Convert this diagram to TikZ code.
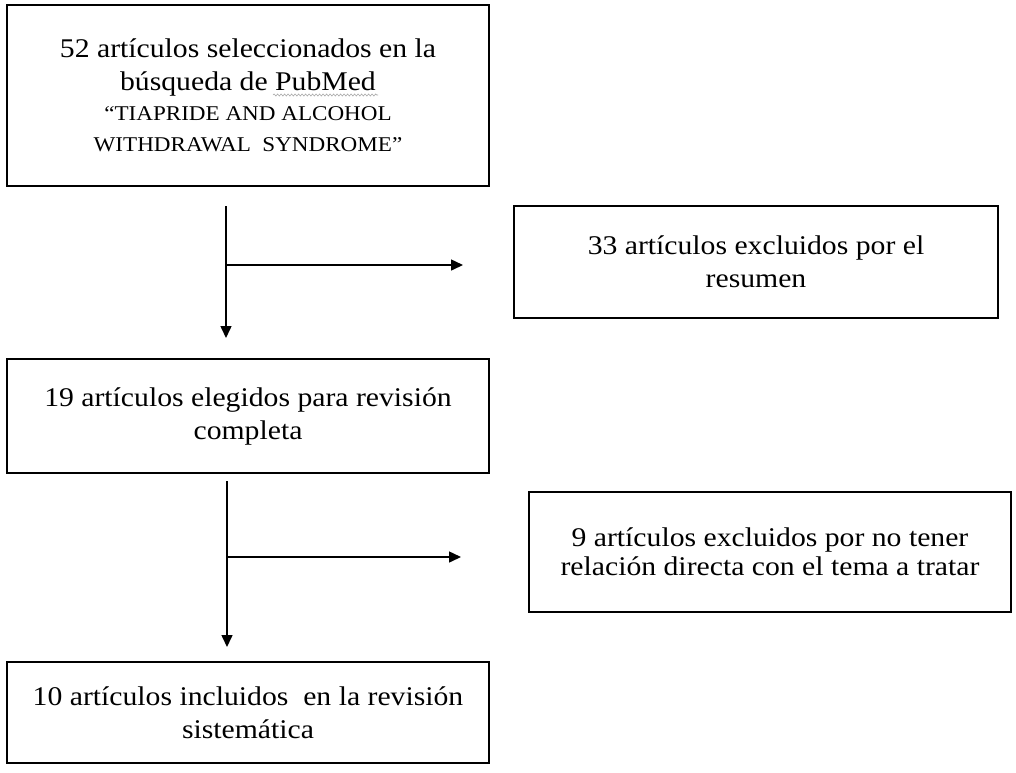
\documentclass[tikz,border=0pt]{standalone}
\usepackage{fontspec}
\setmainfont{Liberation Serif}[FakeStretch=1.1]
\usetikzlibrary{arrows.meta,decorations.pathmorphing}
\newcommand{\capsize}{\fontsize{21}{27}\selectfont}
\begin{document}
\begin{tikzpicture}[x=1pt,y=-1pt,
  box/.style={draw=black,line width=1.6pt,align=center,inner sep=0pt,
    font=\fontsize{27}{33}\selectfont},
  arr/.style={line width=1.5pt,-{Triangle[length=12pt,width=11pt]}},
  ]
\useasboundingbox[fill=white] (0,0) rectangle (1016,772);
\node[box,minimum width=482pt,minimum height=181pt] (b1) at (248,95.5)
  {52 artículos seleccionados en la\\ búsqueda de PubMed\\[-3pt]
   \capsize “TIAPRIDE AND ALCOHOL\\[-2pt] \capsize WITHDRAWAL\ \ SYNDROME”};
\node[box,minimum width=484pt,minimum height=112pt] (b2) at (756,262)
  {33 artículos excluidos por el\\ resumen};
\node[box,minimum width=482pt,minimum height=114pt] (b3) at (248,416)
  {19 artículos elegidos para revisión\\ completa};
\node[box,minimum width=482pt,minimum height=120pt] (b4) at (770,552)
  {9 artículos excluidos por no tener\\[-4pt] relación directa con el tema a tratar};
\node[box,minimum width=482pt,minimum height=101pt] (b5) at (248,712.5)
  {10 artículos incluidos\ \ en la revisión\\ sistemática};
% wavy spell-check underline under PubMed
\coordinate (w1) at (273,95);
\coordinate (w2) at (378,95);
\draw[gray!70,line width=0.6pt,decorate,decoration={snake,amplitude=1pt,segment length=3.5pt}] (w1) -- (w2);
% connectors
\coordinate (v1s) at (226,206);
\coordinate (v1e) at (226,338);
\coordinate (h1s) at (226,265);
\coordinate (h1e) at (463,265);
\coordinate (v2s) at (227,481);
\coordinate (v2e) at (227,647);
\coordinate (h2s) at (227,557);
\coordinate (h2e) at (461,557);
\draw[arr] (v1s) -- (v1e);
\draw[arr] (h1s) -- (h1e);
\draw[arr] (v2s) -- (v2e);
\draw[arr] (h2s) -- (h2e);
\end{tikzpicture}
\end{document}
